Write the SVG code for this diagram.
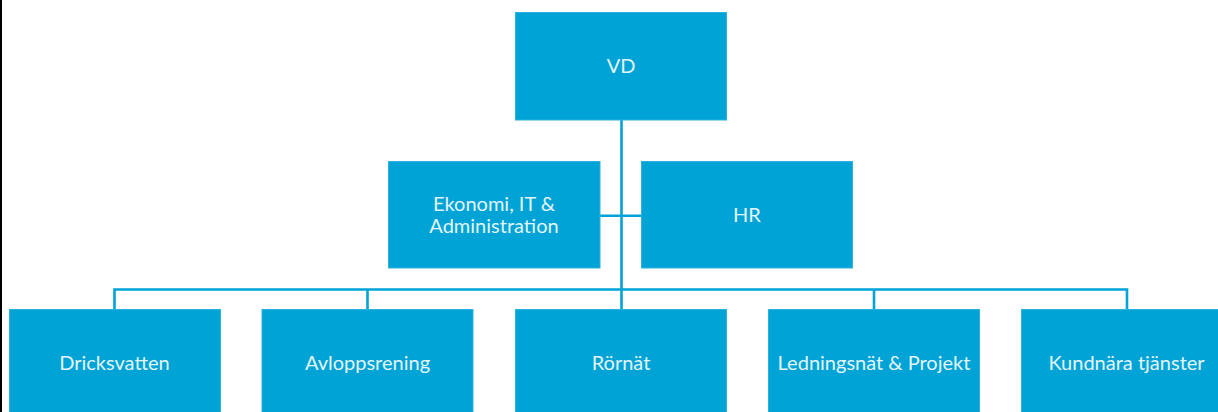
<svg xmlns="http://www.w3.org/2000/svg" width="1218" height="412" viewBox="0 0 1218 412">
  <style>
    .box { fill: #00a3d6; stroke: #2cb2de; stroke-width: 1; }
    .lbl { font-family: Lato, "Liberation Sans", sans-serif; font-size: 20px; fill: #e3f5fb; text-anchor: middle; }
    .wire { fill: none; stroke: #00a3d6; stroke-width: 2.6; }
  </style>
  <rect x="0" y="0" width="1218" height="412" fill="#ffffff"/>
  <rect x="0" y="0" width="2" height="412" fill="#000000"/>

  <g id="connectors">
    <path class="wire" d="M621.5 120 V309"/>
    <path class="wire" d="M600 215.7 H641"/>
    <path class="wire" d="M114.5 309 V289.5 H1127 V309"/>
    <path class="wire" d="M367.5 289.5 V309"/>
    <path class="wire" d="M874 289.5 V309"/>
  </g>

  <g id="vd">
    <rect class="box" x="515.5" y="12.5" width="211" height="107.5"/>
    <text class="lbl" x="621" y="73">VD</text>
  </g>
  <g id="ekonomi">
    <rect class="box" x="388.5" y="161.5" width="211.5" height="106.5"/>
    <text class="lbl" x="494" y="210.5">Ekonomi, IT &amp;</text>
    <text class="lbl" x="494" y="233">Administration</text>
  </g>
  <g id="hr">
    <rect class="box" x="641.5" y="161.5" width="211" height="106.5"/>
    <text class="lbl" x="747" y="221.5">HR</text>
  </g>
  <g id="dricksvatten">
    <rect class="box" x="9.5" y="309.5" width="211" height="110"/>
    <text class="lbl" x="114.5" y="370">Dricksvatten</text>
  </g>
  <g id="avloppsrening">
    <rect class="box" x="262" y="309.5" width="211" height="110"/>
    <text class="lbl" x="367.5" y="370">Avloppsrening</text>
  </g>
  <g id="rornat">
    <rect class="box" x="515.5" y="309.5" width="211" height="110"/>
    <text class="lbl" x="621" y="370">Rörnät</text>
  </g>
  <g id="ledningsnat">
    <rect class="box" x="768.5" y="309.5" width="211" height="110"/>
    <text class="lbl" x="874" y="370">Ledningsnät &amp; Projekt</text>
  </g>
  <g id="kundnara">
    <rect class="box" x="1021.5" y="309.5" width="211" height="110"/>
    <text class="lbl" x="1126.5" y="370">Kundnära tjänster</text>
  </g>
</svg>
